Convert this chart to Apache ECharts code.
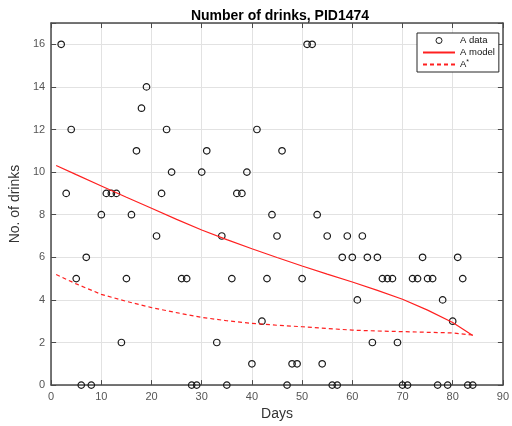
<!DOCTYPE html>
<html>
<head>
<meta charset="utf-8">
<script src="https://cdn.jsdelivr.net/npm/echarts@6/dist/echarts.min.js"></script>
<style>
  html, body { margin: 0; padding: 0; background: #ffffff; }
  #chart { width: 512px; height: 426px; }
</style>
</head>
<body>
<div id="chart"></div>
<script>
// Observed daily drink counts (days with no record are left out)
const days = [2,3,4,5,6,7,8,10,11,12,13,14,15,16,17,18,19,21,22,23,24,26,27,28,29,30,31,
  33,34,35,36,37,38,39,40,41,42,43,44,45,46,47,48,49,50,51,52,53,54,55,56,57,58,59,60,61,62,
  63,64,65,66,67,68,69,70,71,72,73,74,75,76,77,78,79,80,81,82,83,84];
const drinks = [16,9,12,5,0,6,0,8,9,9,9,2,5,8,11,13,14,7,9,12,10,5,5,0,0,10,11,
  2,7,0,5,9,9,10,1,12,3,5,8,7,11,0,1,1,5,16,16,8,1,7,0,0,6,7,6,4,7,
  6,2,6,5,5,5,2,0,0,5,5,6,5,5,0,4,0,3,6,5,0,0];

// Fitted model curve and the A* curve
const curveDays   = [1, 5, 10, 15, 20, 25, 30, 35, 40, 45, 50, 55, 60, 65, 70, 75, 80, 84];
const modelValues = [10.31, 9.88, 9.35, 8.82, 8.30, 7.78, 7.28, 6.83, 6.40, 5.99, 5.59, 5.21, 4.84, 4.45, 4.03, 3.52, 2.94, 2.33];
const starValues  = [5.19, 4.75, 4.26, 3.93, 3.64, 3.40, 3.18, 3.02, 2.90, 2.81, 2.74, 2.66, 2.58, 2.54, 2.51, 2.48, 2.45, 2.35];

// Axis ticks
const xTicks = [0, 10, 20, 30, 40, 50, 60, 70, 80, 90];
const yTicks = [0, 2, 4, 6, 8, 10, 12, 14, 16];

const FONT = '"Liberation Sans", Arial, Helvetica, sans-serif';
const AXIS_COLOR = '#4a4a4a';
const GRID_COLOR = '#e2e2e2';

const pairs = (xs, ys) => xs.map((x, i) => [x, ys[i]]);

const chart = echarts.init(document.getElementById('chart'), null, { renderer: 'canvas' });

const baseAxisLine = { show: true, onZero: false, lineStyle: { color: AXIS_COLOR, width: 1.5 } };
const baseTick = { show: true, inside: true, length: 5, lineStyle: { color: AXIS_COLOR, width: 1 } };
const hiddenSymbol = { color: 'rgba(0,0,0,0)', borderWidth: 0, opacity: 0 };

chart.setOption({
  animation: false,
  backgroundColor: '#ffffff',
  title: {
    text: 'Number of drinks, PID1474',
    left: 275,
    textAlign: 'center',
    top: 4,
    textStyle: { fontFamily: FONT, fontSize: 14, fontWeight: 'bold', color: '#000000' }
  },
  grid: { left: 42, right: 5, top: 23, bottom: 38, containLabel: false },
  legend: {
    orient: 'vertical',
    left: 417,
    top: 33,
    padding: [2, 4, 2, 5],
    itemGap: 1,
    itemWidth: 32,
    itemHeight: 6,
    borderColor: '#262626',
    borderWidth: 1,
    backgroundColor: '#ffffff',
    data: [
      { name: 'A data', itemStyle: { color: 'rgba(255,255,255,0)', borderColor: '#1a1a1a', borderWidth: 1 } },
      { name: 'A model', itemStyle: hiddenSymbol },
      { name: 'A*', itemStyle: hiddenSymbol }
    ],
    formatter: name => (name === 'A*' ? '{m|A}{s|*}' : name),
    textStyle: {
      fontFamily: FONT, fontSize: 9.5, color: '#111111', lineHeight: 11,
      rich: {
        m: { fontFamily: FONT, fontSize: 9.5, color: '#111111' },
        s: { fontFamily: FONT, fontSize: 7, color: '#111111', verticalAlign: 'top', padding: [0, 0, 5, 0] }
      }
    }
  },
  xAxis: [
    {
      type: 'value', min: xTicks[0], max: xTicks[xTicks.length - 1], interval: xTicks[1] - xTicks[0],
      position: 'bottom',
      name: 'Days', nameLocation: 'middle', nameGap: 17,
      nameTextStyle: { fontFamily: FONT, fontSize: 14, color: '#333333' },
      axisLine: baseAxisLine, axisTick: baseTick,
      axisLabel: { fontFamily: FONT, fontSize: 11, color: '#555555', margin: 6 },
      splitLine: { show: true, lineStyle: { color: GRID_COLOR, width: 1 } }
    },
    {
      type: 'value', min: xTicks[0], max: xTicks[xTicks.length - 1], interval: xTicks[1] - xTicks[0],
      position: 'top',
      axisLine: baseAxisLine, axisTick: baseTick,
      axisLabel: { show: false }, splitLine: { show: false }
    }
  ],
  yAxis: [
    {
      type: 'value', min: 0, max: 17, interval: yTicks[1] - yTicks[0],
      position: 'left',
      name: 'No. of drinks', nameLocation: 'middle', nameGap: 22, nameRotate: 90,
      nameTextStyle: { fontFamily: FONT, fontSize: 14, color: '#333333' },
      axisLine: baseAxisLine, axisTick: baseTick,
      axisLabel: {
        fontFamily: FONT, fontSize: 11, color: '#555555', margin: 6,
        formatter: v => (yTicks.indexOf(v) >= 0 ? String(v) : '')
      },
      splitLine: { show: true, lineStyle: { color: GRID_COLOR, width: 1 } }
    },
    {
      type: 'value', min: 0, max: 17, interval: yTicks[1] - yTicks[0],
      position: 'right',
      axisLine: baseAxisLine, axisTick: baseTick,
      axisLabel: { show: false }, splitLine: { show: false }
    }
  ],
  series: [
    {
      name: 'A data',
      type: 'scatter',
      symbol: 'circle',
      symbolSize: 6.5,
      itemStyle: { color: 'rgba(255,255,255,0)', borderColor: '#1a1a1a', borderWidth: 1.2, opacity: 1 },
      data: pairs(days, drinks),
      z: 3
    },
    {
      name: 'A model',
      type: 'line',
      symbol: 'none',
      smooth: false,
      lineStyle: { color: '#ff2020', width: 1.2 },
      itemStyle: { color: '#ff2020' },
      data: pairs(curveDays, modelValues),
      z: 4
    },
    {
      name: 'A*',
      type: 'line',
      symbol: 'none',
      smooth: false,
      lineStyle: { color: '#ff2020', width: 1.2, type: [4, 3] },
      itemStyle: { color: '#ff2020' },
      data: pairs(curveDays, starValues),
      z: 4
    }
  ]
});
</script>
</body>
</html>
